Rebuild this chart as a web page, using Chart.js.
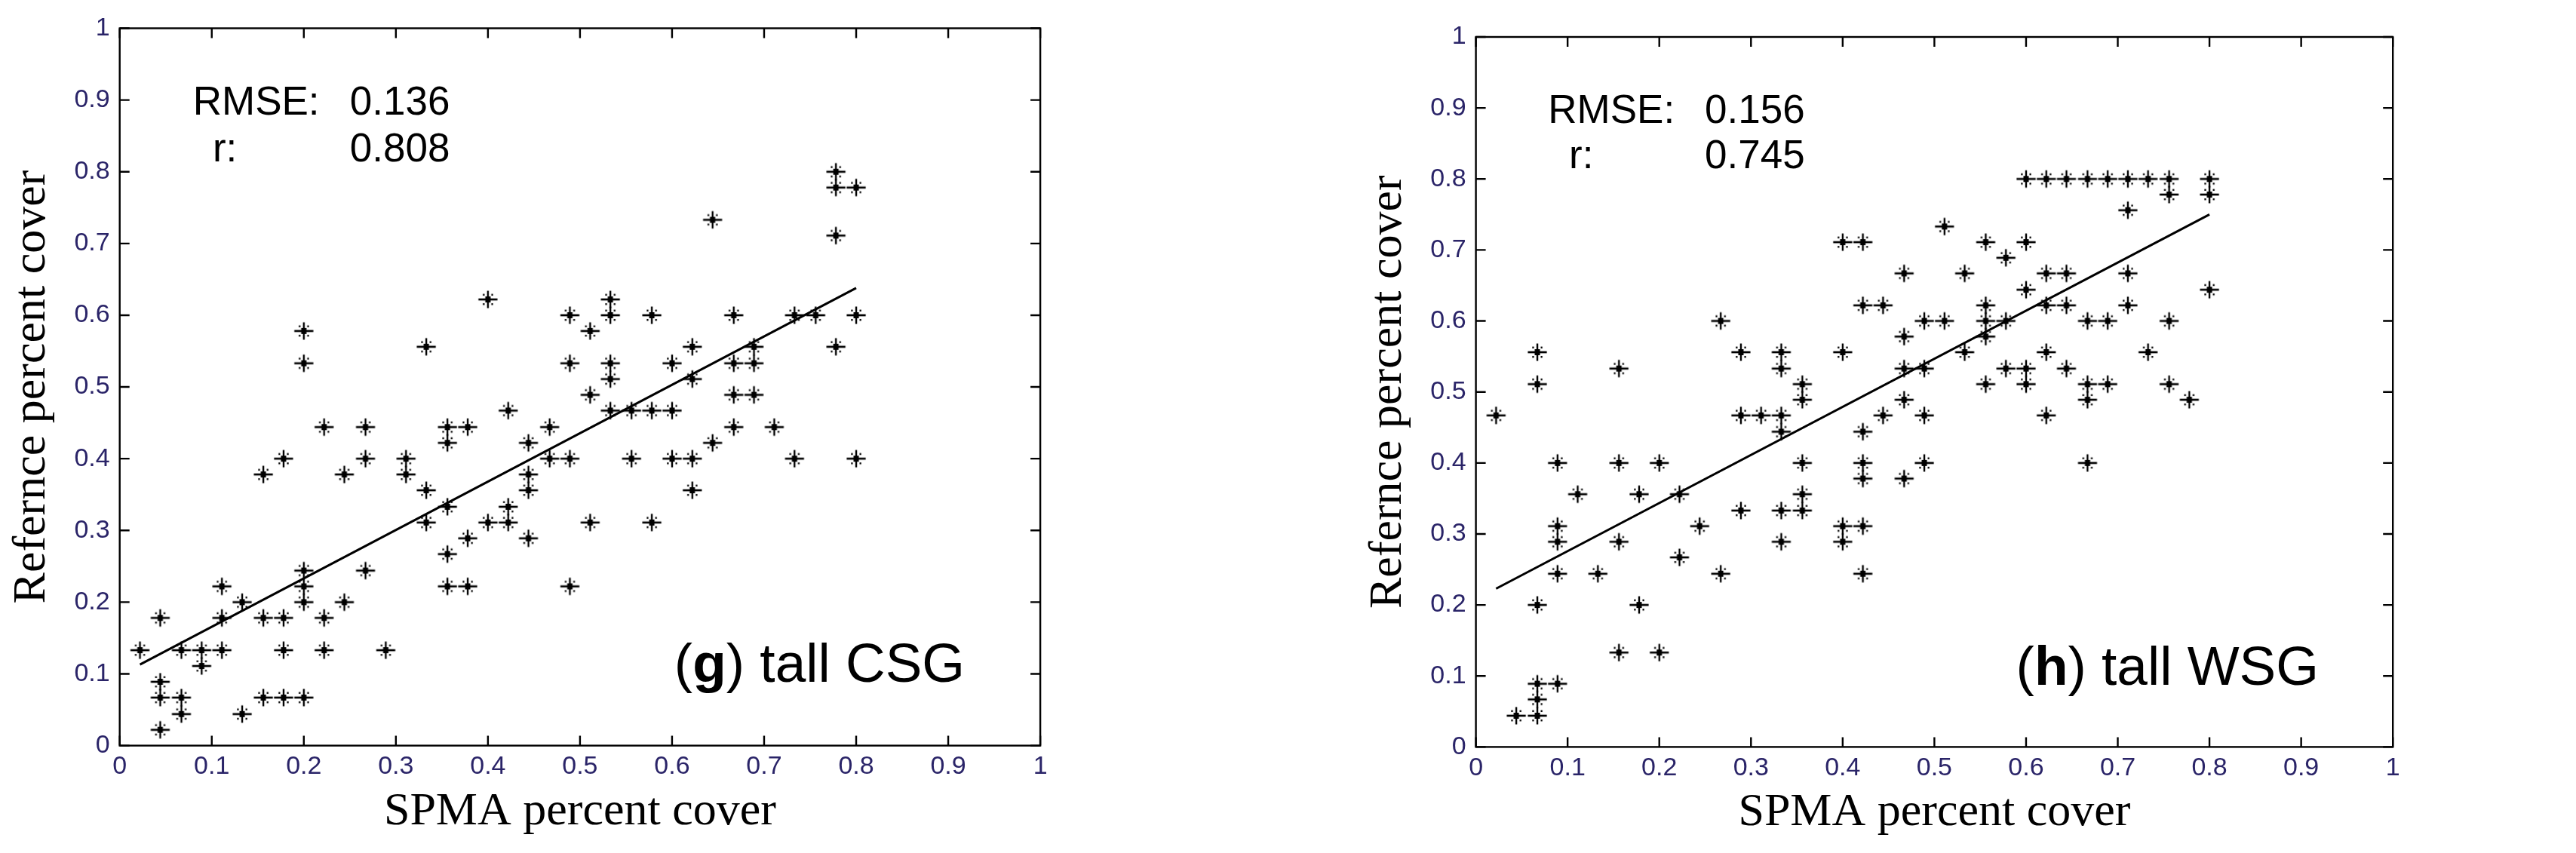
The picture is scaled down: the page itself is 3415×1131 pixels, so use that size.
<!DOCTYPE html>
<html>
<head>
<meta charset="utf-8">
<script src="https://cdn.jsdelivr.net/npm/chart.js@4.4.1/dist/chart.umd.min.js"></script>
<style>
  html, body { margin: 0; padding: 0; background: #fff; overflow: hidden; }
  #wrap { position: relative; width: 3415px; height: 1131px; background: #fff; }
  canvas { position: absolute; top: 0; }
  #cg { left: 0; width: 1707px; height: 1131px; }
  #ch { left: 1707px; width: 1708px; height: 1131px; }
</style>
</head>
<body>
<div id="wrap">
  <canvas id="cg" width="1484" height="1131"></canvas>
  <canvas id="ch" width="1485" height="1131"></canvas>
</div>
<script>
// ---------------- data ----------------
const tickValues = [0, 0.1, 0.2, 0.3, 0.4, 0.5, 0.6, 0.7, 0.8, 0.9, 1];
const tickLabels = ['0', '0.1', '0.2', '0.3', '0.4', '0.5', '0.6', '0.7', '0.8', '0.9', '1'];

const xTitle = 'SPMA percent cover';
const yTitle = 'Refernce percent cover';

// (g) tall CSG
const gX = [
  0.022,0.044,0.044,0.044,0.067,0.067,0.044,0.067,0.089,0.089,
  0.111,0.111,0.111,0.133,0.133,0.156,0.156,0.178,0.200,0.178,
  0.178,0.200,0.200,0.200,0.222,0.222,0.244,0.267,0.289,0.156,
  0.178,0.222,0.244,0.267,0.267,0.311,0.311,0.333,0.333,0.356,
  0.356,0.356,0.378,0.378,0.356,0.356,0.378,0.400,0.422,0.422,
  0.444,0.444,0.444,0.444,0.467,0.467,0.489,0.489,0.511,0.200,
  0.200,0.333,0.400,0.489,0.511,0.489,0.422,0.511,0.778,0.778,
  0.800,0.644,0.778,0.533,0.533,0.578,0.667,0.733,0.756,0.800,
  0.622,0.689,0.778,0.533,0.600,0.667,0.689,0.533,0.622,0.667,
  0.689,0.533,0.556,0.578,0.600,0.667,0.711,0.644,0.556,0.600,
  0.622,0.733,0.800,0.622,0.578
];
const gY = [
  0.133,0.178,0.089,0.067,0.067,0.044,0.022,0.133,0.133,0.111,
  0.133,0.178,0.222,0.200,0.044,0.178,0.067,0.067,0.067,0.133,
  0.178,0.200,0.222,0.244,0.178,0.133,0.200,0.244,0.133,0.378,
  0.400,0.444,0.378,0.400,0.444,0.400,0.378,0.356,0.311,0.333,
  0.267,0.222,0.222,0.289,0.422,0.444,0.444,0.311,0.333,0.311,
  0.289,0.356,0.378,0.422,0.444,0.400,0.400,0.222,0.311,0.578,
  0.533,0.556,0.622,0.600,0.578,0.533,0.467,0.489,0.800,0.778,
  0.778,0.733,0.711,0.622,0.600,0.600,0.600,0.600,0.600,0.600,
  0.556,0.556,0.556,0.533,0.533,0.533,0.533,0.511,0.511,0.489,
  0.489,0.467,0.467,0.467,0.467,0.444,0.444,0.422,0.400,0.400,
  0.400,0.400,0.400,0.356,0.311
];
const gFitX = [0.022, 0.800];
const gFitY = [0.113, 0.638];
const gRmse = '0.136';
const gR = '0.808';

// (h) tall WSG
const hX = [
  0.022,0.044,0.067,0.067,0.067,0.089,0.067,0.067,0.067,0.089,
  0.089,0.089,0.089,0.111,0.133,0.156,0.156,0.156,0.156,0.178,
  0.178,0.200,0.200,0.222,0.222,0.244,0.267,0.267,0.289,0.289,
  0.289,0.311,0.333,0.333,0.333,0.333,0.333,0.333,0.356,0.356,
  0.356,0.356,0.356,0.400,0.400,0.400,0.400,0.422,0.422,0.422,
  0.422,0.422,0.422,0.422,0.444,0.444,0.467,0.467,0.467,0.467,
  0.467,0.489,0.489,0.489,0.489,0.511,0.511,0.533,0.533,0.556,
  0.556,0.556,0.556,0.556,0.578,0.578,0.578,0.600,0.600,0.600,
  0.600,0.600,0.622,0.622,0.622,0.622,0.622,0.644,0.644,0.644,
  0.644,0.667,0.667,0.667,0.667,0.667,0.689,0.689,0.689,0.711,
  0.711,0.711,0.711,0.733,0.733,0.756,0.756,0.756,0.756,0.778,
  0.800,0.800,0.800
];
const hY = [
  0.467,0.044,0.044,0.067,0.089,0.089,0.200,0.511,0.556,0.244,
  0.289,0.311,0.400,0.356,0.244,0.133,0.289,0.400,0.533,0.200,
  0.356,0.133,0.400,0.267,0.356,0.311,0.244,0.600,0.333,0.467,
  0.556,0.467,0.289,0.333,0.444,0.467,0.533,0.556,0.333,0.356,
  0.400,0.489,0.511,0.289,0.311,0.556,0.711,0.244,0.311,0.378,
  0.400,0.444,0.622,0.711,0.467,0.622,0.378,0.489,0.533,0.578,
  0.667,0.400,0.467,0.533,0.600,0.600,0.733,0.556,0.667,0.511,
  0.578,0.600,0.622,0.711,0.533,0.600,0.689,0.511,0.533,0.644,
  0.711,0.800,0.467,0.556,0.622,0.667,0.800,0.533,0.622,0.667,
  0.800,0.400,0.489,0.511,0.600,0.800,0.511,0.600,0.800,0.622,
  0.667,0.756,0.800,0.556,0.800,0.511,0.600,0.778,0.800,0.489,
  0.644,0.778,0.800
];
const hFitX = [0.022, 0.800];
const hFitY = [0.223, 0.750];
const hRmse = '0.156';
const hR = '0.745';

// ---------------- styling / layout ----------------
const TICK_COLOR = '#2a2468';
const SANS = '"Liberation Sans", Arial, Helvetica, sans-serif';
const SERIF = '"Liberation Serif", "Times New Roman", Times, serif';

// asterisk marker as rendered in the low-res source: long +, bold centre, small diagonal dots
function makeStarMarker() {
  const c = document.createElement('canvas');
  c.width = 30; c.height = 30;
  const g = c.getContext('2d');
  const cx = 15, cy = 15;
  g.fillStyle = '#000';
  g.fillRect(cx - 12.6, cy - 1.35, 25.2, 2.7);
  g.fillRect(cx - 1.2, cy - 11.5, 2.4, 23);
  g.fillRect(cx - 3.5, cy - 4, 7, 8);
  [[-1, -1], [1, -1], [-1, 1], [1, 1]].forEach(([sx, sy]) => {
    g.fillRect(cx + sx * 5.6 - 1.1, cy + sy * 6.2 - 1.25, 2.2, 2.5);
  });
  return c;
}
const starMarker = makeStarMarker();

const framePlugin = {
  id: 'frame',
  afterDraw(chart, args, opts) {
    const { ctx, chartArea: a, scales: { x, y } } = chart;
    ctx.save();
    ctx.strokeStyle = '#000';
    ctx.lineWidth = 2.4;
    ctx.lineCap = 'butt';
    ctx.strokeRect(a.left, a.top, a.right - a.left, a.bottom - a.top);
    ctx.beginPath();
    const tl = 13;
    tickValues.forEach(v => {
      const px = x.getPixelForValue(v);
      const py = y.getPixelForValue(v);
      ctx.moveTo(px, a.bottom); ctx.lineTo(px, a.bottom - tl);
      ctx.moveTo(px, a.top); ctx.lineTo(px, a.top + tl);
      ctx.moveTo(a.left, py); ctx.lineTo(a.left + tl, py);
      ctx.moveTo(a.right, py); ctx.lineTo(a.right - tl, py);
    });
    ctx.stroke();

    // annotations
    ctx.fillStyle = '#000';
    ctx.textBaseline = 'alphabetic';
    ctx.textAlign = 'left';
    (opts.texts || []).forEach(t => {
      let cx = x.getPixelForValue(t.x);
      const cy = y.getPixelForValue(t.y);
      t.parts.forEach(p => {
        ctx.font = (p.bold ? 'bold ' : '') + t.size + 'px ' + SANS;
        ctx.fillText(p.s, cx, cy);
        cx += ctx.measureText(p.s).width;
      });
    });
    ctx.restore();
  }
};

function makeChart(id, xs, ys, fx, fy, geo, texts) {
  const pts = xs.map((v, i) => ({ x: v, y: ys[i] }));
  const fit = fx.map((v, i) => ({ x: v, y: fy[i] }));
  const tickFont = { family: SANS, size: 34 };
  const titleFont = { family: SERIF, size: 62, lineHeight: 1.2 };
  return new Chart(document.getElementById(id), {
    type: 'scatter',
    data: {
      datasets: [
        {
          data: pts,
          showLine: false,
          pointStyle: starMarker,
          pointRadius: 12,
          pointBorderColor: '#000',
          pointBackgroundColor: '#000',
          borderColor: '#000'
        },
        {
          data: fit,
          showLine: true,
          pointRadius: 0,
          borderColor: '#000',
          borderWidth: 3,
          fill: false
        }
      ]
    },
    options: {
      responsive: false,
      animation: false,
      devicePixelRatio: 1,
      events: [],
      layout: { padding: { top: geo.top, right: geo.right, left: 0, bottom: 0 } },
      plugins: {
        legend: { display: false },
        tooltip: { enabled: false },
        frame: { texts: texts }
      },
      scales: {
        x: {
          type: 'linear', min: 0, max: 1,
          grid: { display: false, drawTicks: false },
          border: { display: false },
          afterBuildTicks: s => { s.ticks = tickValues.map(v => ({ value: v })); },
          afterFit: s => { s.height = geo.xh; },
          ticks: {
            color: TICK_COLOR, font: tickFont, padding: 8, maxRotation: 0, autoSkip: false,
            callback: (v, i) => tickLabels[i]
          },
          title: {
            display: true, text: xTitle, color: '#000', font: titleFont,
            padding: { top: 0, bottom: geo.xtPad }
          }
        },
        y: {
          type: 'linear', min: 0, max: 1,
          grid: { display: false, drawTicks: false },
          border: { display: false },
          afterBuildTicks: s => { s.ticks = tickValues.map(v => ({ value: v })); },
          afterFit: s => { s.width = geo.yw; },
          ticks: {
            color: TICK_COLOR, font: tickFont, padding: 13, autoSkip: false,
            callback: (v, i) => tickLabels[i]
          },
          title: {
            display: true, text: yTitle, color: '#000', font: titleFont,
            padding: { top: geo.ytPad, bottom: 0 }
          }
        }
      }
    },
    plugins: [framePlugin]
  });
}

function statTexts(pos, rmse, r, tag, tagName) {
  return [
    { x: pos.sx, y: pos.y1, size: 53, parts: [{ s: 'RMSE:' }] },
    { x: pos.vx, y: pos.y1, size: 53, parts: [{ s: rmse }] },
    { x: pos.rx, y: pos.y2, size: 53, parts: [{ s: 'r:' }] },
    { x: pos.vx, y: pos.y2, size: 53, parts: [{ s: r }] },
    { x: pos.lx, y: pos.ly, size: 73, parts: [{ s: '(' }, { s: tag, bold: true }, { s: ') ' + tagName }] }
  ];
}

makeChart('cg', gX, gY, gFitX, gFitY,
  { top: 37.5, right: 104.9, xh: 142.4, yw: 158.7, xtPad: 16.7, ytPad: 5.4 },
  statTexts({ sx: 0.0795, vx: 0.25, rx: 0.101, y1: 0.88, y2: 0.8145, lx: 0.6024, ly: 0.089 }, gRmse, gR, 'g', 'tall CSG'));

makeChart('ch', hX, hY, hFitX, hFitY,
  { top: 49, right: 19.8, xh: 140.6, yw: 249.6, xtPad: 15.7, ytPad: 96.7 },
  statTexts({ sx: 0.0787, vx: 0.2496, rx: 0.1016, y1: 0.879, y2: 0.815, lx: 0.589, ly: 0.087 }, hRmse, hR, 'h', 'tall WSG'));
</script>
</body>
</html>
